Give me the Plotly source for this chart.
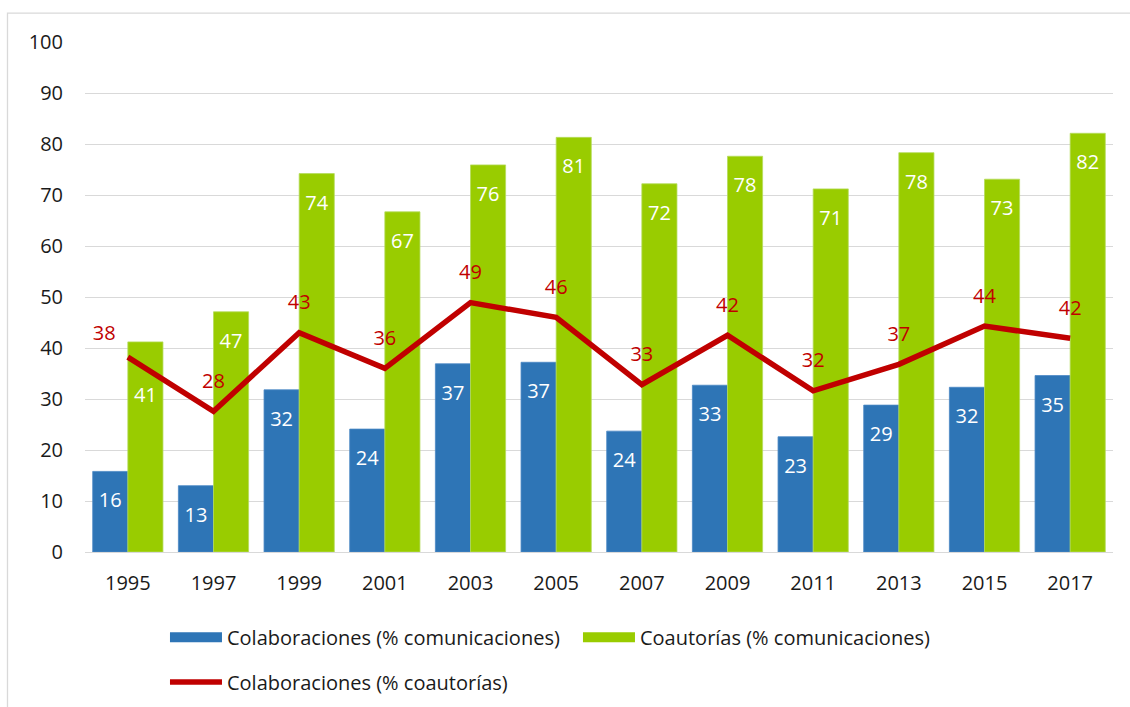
import plotly.graph_objects as go

years = [1995, 1997, 1999, 2001, 2003, 2005, 2007, 2009, 2011, 2013, 2015, 2017]
colab_com = [15.8, 13.0, 31.8, 24.1, 36.9, 37.2, 23.7, 32.7, 22.6, 28.8, 32.3, 34.6]
coaut_com = [41.2, 47.1, 74.2, 66.7, 75.9, 81.3, 72.2, 77.6, 71.2, 78.3, 73.1, 82.1]
colab_coaut = [38.2, 27.6, 43.0, 36.0, 48.9, 46.0, 32.8, 42.5, 31.6, 36.8, 44.3, 41.9]

name_blue = "Colaboraciones (% comunicaciones)"
name_green = "Coautorías (% comunicaciones)"
name_red = "Colaboraciones (% coautorías)"

BLUE = "#2E75B6"
GREEN = "#99CC00"
RED = "#C00000"
FONT = "Open Sans"
FS = 20
BAR_W = 0.82
TXT = "#1a1a1a"
NOMARK = dict(color="rgba(0,0,0,0)", line=dict(width=0))

fig = go.Figure()

fig.add_trace(go.Bar(x=years, y=colab_com, width=BAR_W, offset=-BAR_W,
                     marker=dict(color=BLUE, line=dict(color="#4a88c4", width=0.8)),
                     showlegend=False, hoverinfo="skip"))
fig.add_trace(go.Bar(x=years, y=coaut_com, width=BAR_W, offset=0,
                     marker=dict(color=GREEN, line=dict(color="#b5dc5c", width=0.8)),
                     showlegend=False, hoverinfo="skip"))

fig.add_trace(go.Scatter(x=years, y=colab_coaut, mode="lines",
                         line=dict(color=RED, width=5.5),
                         showlegend=True, name=name_red, legend="legend2",
                         hoverinfo="skip"))

# bar value labels
blue_x = [y - BAR_W / 2 for y in years]
green_x = [y + BAR_W / 2 for y in years]
blue_sizes = [32] * len(years)
green_sizes = [32] * len(years)
green_sizes[0] = 70
fig.add_trace(go.Scatter(x=blue_x, y=colab_com, mode="markers+text",
                         text=[f"{v:.0f}" for v in colab_com],
                         textposition="bottom center",
                         textfont=dict(family=FONT, size=FS, color="white"),
                         marker=dict(size=blue_sizes, **NOMARK),
                         showlegend=False, hoverinfo="skip", cliponaxis=False))
fig.add_trace(go.Scatter(x=green_x, y=coaut_com, mode="markers+text",
                         text=[f"{v:.0f}" for v in coaut_com],
                         textposition="bottom center",
                         textfont=dict(family=FONT, size=FS, color="white"),
                         marker=dict(size=green_sizes, **NOMARK),
                         showlegend=False, hoverinfo="skip", cliponaxis=False))

line_pos = ["top center"] * len(years)
line_pos[0] = "top left"
line_sizes = [28] * len(years)
line_sizes[0] = 18
fig.add_trace(go.Scatter(x=years, y=colab_coaut, mode="markers+text",
                         text=[f"{v:.0f}" for v in colab_coaut],
                         textposition=line_pos,
                         textfont=dict(family=FONT, size=FS, color=RED),
                         marker=dict(size=line_sizes, **NOMARK),
                         showlegend=False, hoverinfo="skip", cliponaxis=False))

# legend entries for bars
fig.add_trace(go.Scatter(x=[None], y=[None], mode="lines", name=name_blue,
                         line=dict(color=BLUE, width=14), legend="legend"))
fig.add_trace(go.Scatter(x=[None], y=[None], mode="lines", name=name_green,
                         line=dict(color=GREEN, width=14), legend="legend"))

GRID = "#d9d9d9"
fig.update_layout(
    width=1130, height=707,
    margin=dict(l=85, r=17, t=42, b=155, autoexpand=False),
    paper_bgcolor="white", plot_bgcolor="white",
    barmode="overlay",
    font=dict(family=FONT, size=FS, color=TXT),
    xaxis=dict(range=[1994, 2018], tickmode="array", tickvals=years,
               ticktext=[str(y) for y in years], showgrid=False,
               showline=True, linecolor=GRID, linewidth=1.3,
               zeroline=False, ticks="", ticklabelstandoff=13,
               tickfont=dict(family=FONT, size=FS, color=TXT)),
    yaxis=dict(range=[0, 100], tickmode="linear", tick0=0, dtick=10,
               showgrid=True, gridcolor=GRID, gridwidth=1.3,
               zeroline=False, showline=False, ticks="", ticklabelstandoff=21,
               tickfont=dict(family=FONT, size=FS, color=TXT)),
    legend=dict(orientation="h", x=0.0778, xanchor="left", y=-0.167,
                yanchor="middle", font=dict(family=FONT, size=FS, color=TXT),
                itemwidth=52, entrywidth=346, entrywidthmode="pixels",
                bgcolor="rgba(0,0,0,0)", itemclick=False),
    legend2=dict(orientation="h", x=0.0778, xanchor="left", y=-0.255,
                 yanchor="middle", font=dict(family=FONT, size=FS, color=TXT),
                 itemwidth=52, bgcolor="rgba(0,0,0,0)", itemclick=False),
    shapes=[dict(type="rect", xref="paper", yref="paper",
                 x0=(7.5 - 85) / 1028, x1=1.06, y0=-0.5, y1=(552.3 - 13.5) / 510,
                 line=dict(color=GRID, width=1.3), layer="below")],
)

fig.write_html("out.html", config={"displayModeBar": False},
               post_script="document.body.style.margin='0';")
